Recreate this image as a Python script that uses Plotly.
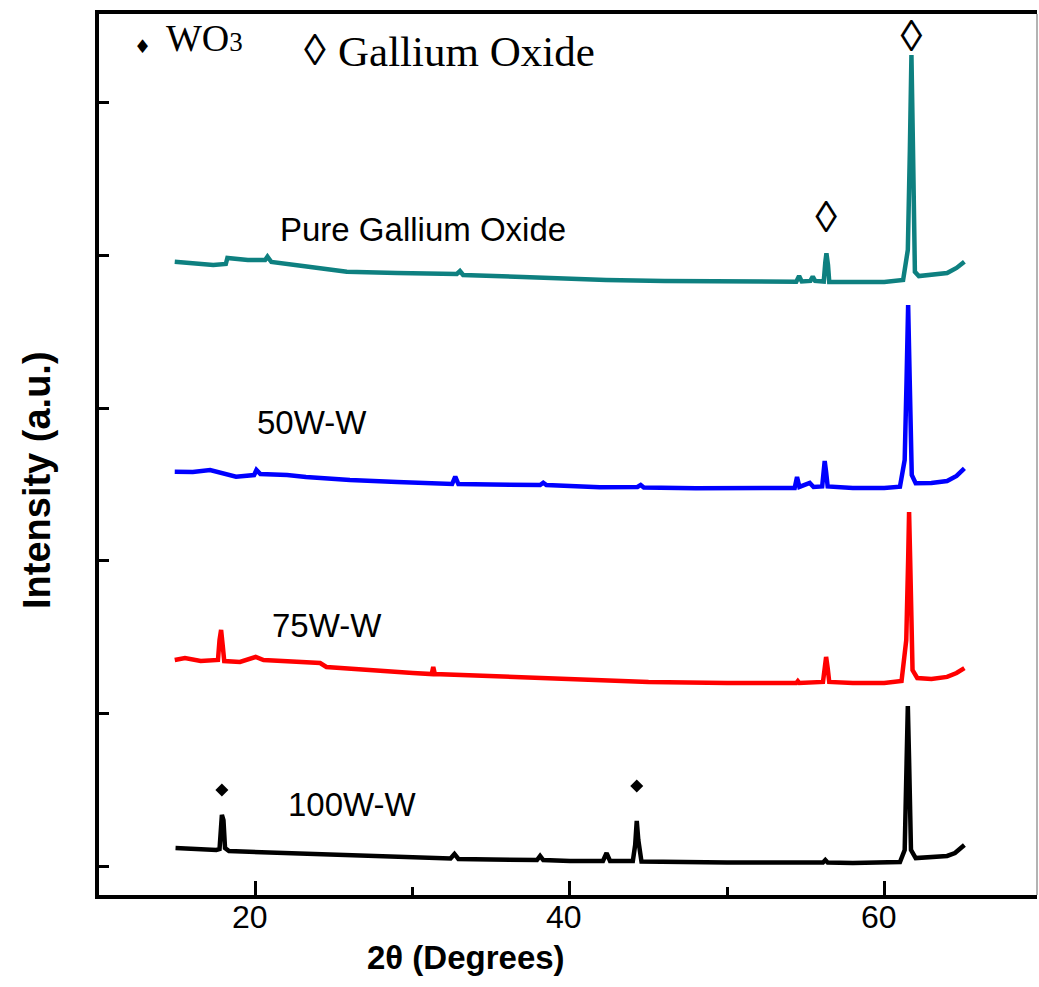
import plotly.graph_objects as go

# ---------------- data (a.u.; 1000 a.u. per y tick) ----------------
x_100 = [14.9, 16.0, 17.5, 17.7, 17.8, 17.85, 17.95, 18.05, 18.3, 20.0, 22.0, 25.0, 28.0, 30.0,
         32.4, 32.65, 32.9, 35.0, 37.9, 38.1, 38.3, 40.0, 42.1, 42.33, 42.55, 44.0, 44.15, 44.25,
         44.35, 44.55, 46.0, 50.0, 55.0, 56.1, 56.25, 56.4, 58.0, 60.0, 61.0, 61.3, 61.42, 61.5,
         61.58, 61.7, 62.0, 63.0, 64.0, 64.5, 65.1]
y_100 = [118, 111, 105, 111, 269, 334, 301, 118, 98, 92, 85, 72, 59, 52,
         49, 79, 46, 43, 39, 66, 39, 33, 33, 85, 33, 33, 138, 295,
         170, 29, 26, 23, 23, 23, 39, 23, 20, 20, 26, 105, 695, 1048,
         695, 105, 52, 59, 66, 85, 138]

x_75 = [14.85, 15.5, 16.5, 17.6, 17.7, 17.8, 17.9, 18.0, 19.0, 20.0, 20.5, 22.0, 24.1, 24.5,
        27.0, 30.0, 31.2, 31.3, 31.4, 33.0, 36.0, 40.0, 45.0, 50.0, 54.4, 54.5, 54.6, 56.1,
        56.2, 56.3, 56.4, 56.5, 58.0, 60.0, 61.1, 61.4, 61.52, 61.58, 61.65, 61.8, 62.1, 63.0,
        64.0, 64.6, 65.1]
y_75 = [1350, 1363, 1343, 1350, 1481, 1547, 1448, 1343, 1337, 1370, 1350, 1343, 1330, 1304,
        1284, 1265, 1258, 1304, 1258, 1252, 1239, 1219, 1206, 1199, 1199, 1212, 1199, 1206,
        1317, 1370, 1297, 1206, 1199, 1199, 1212, 1481, 2005, 2320, 2005, 1284, 1232, 1225,
        1239, 1265, 1297]

x_50 = [14.85, 16.0, 17.1, 18.0, 18.75, 19.9, 20.05, 20.3, 22.0, 23.2, 26.0, 29.0, 32.5, 32.7,
        32.9, 35.0, 38.1, 38.3, 38.5, 41.9, 44.3, 44.5, 44.7, 48.0, 52.0, 54.3, 54.45, 54.6,
        55.26, 55.5, 56.05, 56.15, 56.21, 56.3, 56.4, 58.0, 60.0, 61.0, 61.3, 61.42, 61.52,
        61.62, 61.75, 62.0, 63.0, 64.0, 64.6, 65.1]
y_50 = [2584, 2582, 2595, 2569, 2551, 2562, 2595, 2569, 2562, 2549, 2529, 2516, 2503, 2551,
        2503, 2500, 2497, 2512, 2497, 2482, 2484, 2497, 2480, 2475, 2474, 2477, 2549, 2484,
        2510, 2484, 2487, 2595, 2654, 2582, 2487, 2477, 2477, 2486, 2661, 3185, 3676,
        3185, 2562, 2508, 2510, 2523, 2556, 2606]

x_pure = [14.85, 16.0, 17.3, 18.1, 18.2, 19.5, 20.6, 20.75, 21.0, 23.0, 25.8, 29.0, 32.8, 33.0,
          33.2, 37.0, 42.3, 46.0, 50.0, 54.4, 54.58, 54.75, 55.3, 55.45, 55.6, 56.15, 56.25,
          56.32, 56.42, 56.5, 58.0, 60.0, 61.2, 61.5, 61.63, 61.73, 61.83, 61.95, 62.2, 63.0,
          64.0, 64.6, 65.1]
y_pure = [3960, 3951, 3938, 3945, 3984, 3971, 3971, 3993, 3958, 3932, 3894, 3886, 3880, 3899,
          3873, 3860, 3840, 3834, 3829, 3829, 3866, 3830, 3834, 3862, 3834, 3830, 3958,
          4015, 3938, 3827, 3827, 3827, 3840, 4037, 4692, 5314, 4692, 3893, 3866, 3873,
          3886, 3919, 3960]

# peak markers
wo3_x = [17.85, 44.25]
wo3_y = [498, 524]
ga_x = [56.3, 61.73]
ga_y = [4226, 5412]

sample_names = ["Pure Gallium Oxide", "50W-W", "75W-W", "100W-W"]
name_x = [30.65, 23.56, 24.57, 26.16]
name_y = [4168, 2906, 1579, 406]

x_ticks = [20, 40, 60]
x_tick_labels = ["20", "40", "60"]
x_minor = [30, 50]
y_ticks = [0, 1000, 2000, 3000, 4000, 5000]

# ---------------- figure ----------------
W, H = 1039, 987
L, R, T, B = 99, 2, 14, 92
pw, ph = W - L - R, H - T - B


def px(xp):
    return (xp - L) / pw


def py(yp):
    return 1 - (yp - T) / ph


SANS = "Liberation Sans, Arial"
SERIF = "Liberation Serif, Times New Roman"

fig = go.Figure()
series = [(x_pure, y_pure, "#0E8080"), (x_50, y_50, "#0000FF"),
          (x_75, y_75, "#FF0000"), (x_100, y_100, "#000000")]
for (xs, ys, c), nm in zip(series, sample_names):
    fig.add_trace(go.Scatter(x=xs, y=ys, mode="lines", name=nm,
                             line=dict(color=c, width=4.5), showlegend=False))

fig.add_trace(go.Scatter(x=wo3_x, y=wo3_y, mode="markers", showlegend=False,
                         marker=dict(symbol="diamond", size=10, color="black")))
fig.add_trace(go.Scatter(x=ga_x, y=ga_y, mode="text", text=["◊"] * len(ga_x),
                         textposition="middle center", showlegend=False,
                         textfont=dict(family=SERIF, size=44, color="black")))

for nm, xx, yy in zip(sample_names, name_x, name_y):
    fig.add_annotation(x=xx, y=yy, xref="x", yref="y", text=nm, showarrow=False,
                       font=dict(family=SANS, size=33, color="black"),
                       xanchor="center", yanchor="middle")

# x tick labels
for tv, tl in zip(x_ticks, x_tick_labels):
    fig.add_annotation(x=tv - 0.35, y=py(917), xref="x", yref="paper", text=tl, showarrow=False,
                       font=dict(family=SANS, size=32, color="black"),
                       xanchor="center", yanchor="middle")

# top key
fig.add_annotation(x=px(142), y=py(46), xref="paper", yref="paper", text="♦", showarrow=False,
                   font=dict(family="DejaVu Sans", size=19, color="black"),
                   xanchor="center", yanchor="middle")
fig.add_annotation(x=px(164), y=py(38), xref="paper", yref="paper",
                   text="WO<span style='font-size:27px'>3</span>", showarrow=False,
                   font=dict(family=SERIF, size=38, color="black"),
                   xanchor="left", yanchor="middle")
fig.add_annotation(x=px(315), y=py(50), xref="paper", yref="paper", text="◊", showarrow=False,
                   font=dict(family=SERIF, size=44, color="black"),
                   xanchor="center", yanchor="middle")
fig.add_annotation(x=px(336), y=py(52), xref="paper", yref="paper", text="Gallium Oxide",
                   showarrow=False, font=dict(family=SERIF, size=43, color="black"),
                   xanchor="left", yanchor="middle")

# axis titles
fig.add_annotation(x=px(37), y=py(480), xref="paper", yref="paper", text="<b>Intensity (a.u.)</b>",
                   textangle=-90, showarrow=False,
                   font=dict(family=SANS, size=38, color="black"),
                   xanchor="center", yanchor="middle")
fig.add_annotation(x=px(466), y=py(957), xref="paper", yref="paper", text="<b>2θ (Degrees)</b>",
                   showarrow=False, font=dict(family=SANS, size=33, color="black"),
                   xanchor="center", yanchor="middle")

# thin right border
fig.add_shape(type="line", xref="paper", yref="paper", x0=1, x1=1, y0=0, y1=1,
              line=dict(color="#9a9a9a", width=1.5))

fig.update_xaxes(range=[10.03, 69.72], showline=True, linewidth=4, linecolor="black",
                 mirror=True, ticks="inside", tickvals=x_ticks, ticklen=14, tickwidth=3,
                 tickcolor="black", showgrid=False, zeroline=False, showticklabels=False,
                 minor=dict(ticks="inside", tickvals=x_minor, ticklen=8, tickwidth=3,
                            tickcolor="black", showgrid=False))
fig.update_yaxes(range=[-190, 5583], showline=True, linewidth=4, linecolor="black",
                 mirror=False, ticks="inside", tickvals=y_ticks, ticklen=10, tickwidth=3,
                 tickcolor="black", showticklabels=False, showgrid=False, zeroline=False)

fig.update_layout(width=W, height=H, margin=dict(l=L, r=R, t=T, b=B),
                  paper_bgcolor="white", plot_bgcolor="white")

fig.write_html("out.html")
